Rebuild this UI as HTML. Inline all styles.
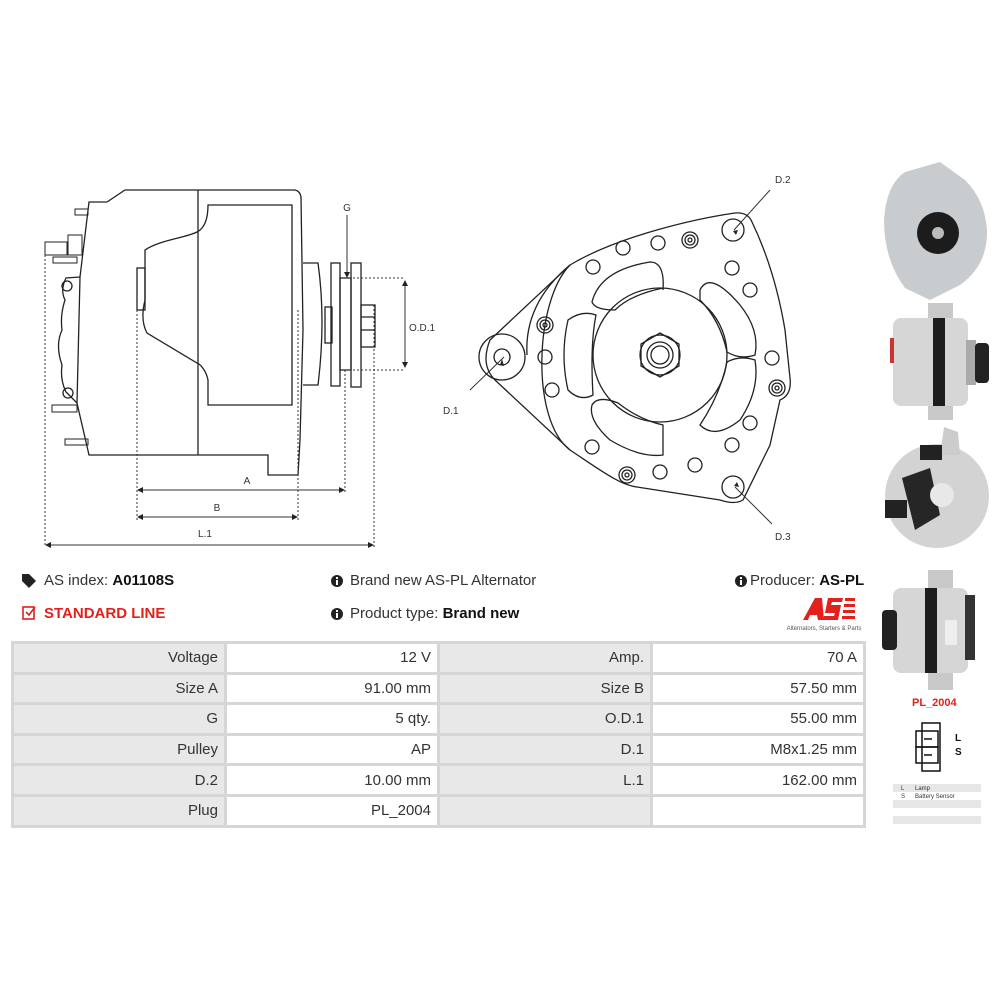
<!DOCTYPE html>
<html><head><meta charset="utf-8"><style>
body{margin:0;width:1000px;height:1000px;background:#fff;font-family:"Liberation Sans",Arial,sans-serif;position:relative;overflow:hidden;color:#333}
.t{position:absolute;font-size:15px;white-space:nowrap}
b{color:#111}
table{position:absolute;left:11px;top:641px;border-collapse:separate;border-spacing:3px;background:#d6d6d6}
td{height:27.6px;font-size:15px;text-align:right;padding:0 6px 0 0;color:#333}
td.l{background:#e8e8e8;width:204px}
td.v{background:#fff;width:204px}
</style></head><body>
<svg width="1000" height="1000" style="position:absolute;left:0;top:0" fill="none" stroke="#222" stroke-width="1.3">
<!-- side view -->
<path d="M89,202 L107,202 L125,190 L295,190 Q300,191 301,197 L303,330 L300,440 L298,475 L268,475 L268,455 L89,455 L77,403 L80,277 Z"/>
<path d="M198,190 L198,455"/>
<path d="M145,250 C160,240 185,238 197,232 C205,228 208,218 208,205 L292,205 L292,405 L208,405 L208,380 C206,370 200,364 197,363 L147,333 Q140,320 145,300 Z"/>
<rect x="137" y="268" width="8" height="42"/>
<path d="M303,263 L318,263 Q326,320 318,385 L303,385"/>
<rect x="325" y="307" width="7" height="36"/>
<rect x="331" y="263" width="9" height="123"/>
<rect x="340" y="278" width="11" height="92"/>
<rect x="351" y="263" width="10" height="124"/>
<rect x="361" y="305" width="14" height="42"/>
<path d="M361,317 L375,317 M361,330 L375,330"/>
<path d="M80,277 L66,278 Q60,290 65,300 Q60,315 62,330 Q55,345 62,365 Q60,380 66,392 L77,403"/>
<circle cx="67" cy="286" r="5"/><circle cx="68" cy="393" r="5"/>
<g stroke-width="1"><rect x="75" y="209" width="13" height="6"/><rect x="45" y="242" width="22" height="13"/><rect x="68" y="235" width="14" height="20"/><rect x="53" y="257" width="24" height="6"/><rect x="52" y="405" width="25" height="7"/><rect x="65" y="439" width="23" height="6"/></g>
<g stroke="#333" stroke-width="1" stroke-dasharray="2,2">
<path d="M45,255 V547 M374,305 V547 M137,310 V520 M298,310 V520 M345,370 V493 M345,278 H405 M345,370 H405"/></g>
<g stroke="#333" stroke-width="1">
<path d="M48,545 H372 M140,490 H343 M140,517 H296 M347,215 V276 M405,282 V366 M504,357 L470,390 M734,230 L770,190 M735,487 L772,524"/></g>
<g fill="#222" stroke="none">
<path d="M45,545 l6,-3 v6z M374,545 l-6,-3 v6z M137,490 l6,-3 v6z M345,490 l-6,-3 v6z M137,517 l6,-3 v6z M298,517 l-6,-3 v6z M347,278 l-3,-6 h6z M405,280 l-3,6 h6z M405,368 l-3,-6 h6z M502,359 l-2,6 4,1z M733,231 l5,-1 -2,5z M734,486 l5,1 -2,-5z"/></g>
<!-- front view -->
<path d="M570,265 C620,235 700,218 735,213 Q748,212 752,222 Q775,270 785,330 L790,378 Q792,395 780,400 L770,445 L743,500 Q735,505 720,500 L637,487 C620,485 600,470 570,450 L495,380 Q480,365 490,340 Z"/>
<path d="M570,265 C535,300 530,420 570,450"/>
<path d="M527,355 C525,320 540,290 570,265"/>
<circle cx="502" cy="357" r="23"/><circle cx="502" cy="357" r="8"/>
<circle cx="660" cy="355" r="67"/>
<path d="M660,333 L679,344 L679,366 L660,377 L641,366 L641,344 Z"/>
<circle cx="660" cy="355" r="20"/><circle cx="660" cy="355" r="13"/><circle cx="660" cy="355" r="9"/>
<g>
<path d="M592,302 Q600,270 650,262 Q665,262 663,290 L663,288 Q630,295 615,310 Q595,310 592,302Z"/>
<path d="M700,290 Q710,270 740,305 Q760,330 755,355 Q740,360 727,352 Q720,320 700,300Z"/>
<path d="M727,362 Q740,355 755,360 Q760,390 740,420 Q715,440 700,425 Q720,395 727,362Z"/>
<path d="M663,425 L663,455 Q640,458 610,440 Q588,420 592,405 Q598,395 618,403 Q640,420 663,425Z"/>
<path d="M596,315 Q590,345 593,395 Q580,402 568,390 Q560,355 568,320 Q582,310 596,315Z"/>
</g>
<g>
<circle cx="623" cy="248" r="7"/><circle cx="658" cy="243" r="7"/><circle cx="593" cy="267" r="7"/><circle cx="732" cy="268" r="7"/><circle cx="750" cy="290" r="7"/><circle cx="545" cy="357" r="7"/><circle cx="552" cy="390" r="7"/><circle cx="772" cy="358" r="7"/><circle cx="750" cy="423" r="7"/><circle cx="732" cy="445" r="7"/><circle cx="592" cy="447" r="7"/><circle cx="660" cy="472" r="7"/><circle cx="695" cy="465" r="7"/>
<circle cx="733" cy="230" r="11"/><circle cx="733" cy="487" r="11"/>
<circle cx="690" cy="240" r="8"/><circle cx="690" cy="240" r="5"/><circle cx="690" cy="240" r="2"/>
<circle cx="545" cy="325" r="8"/><circle cx="545" cy="325" r="5"/><circle cx="545" cy="325" r="2"/>
<circle cx="777" cy="388" r="8"/><circle cx="777" cy="388" r="5"/><circle cx="777" cy="388" r="2"/>
<circle cx="627" cy="475" r="8"/><circle cx="627" cy="475" r="5"/><circle cx="627" cy="475" r="2"/>
</g>
<g fill="#333" stroke="none" font-size="10" font-family="Liberation Sans,sans-serif">
<text x="247" y="484" text-anchor="middle">A</text><text x="217" y="511" text-anchor="middle">B</text><text x="205" y="537" text-anchor="middle">L.1</text>
<text x="347" y="211" text-anchor="middle">G</text><text x="409" y="331">O.D.1</text>
<text x="443" y="414">D.1</text><text x="775" y="183">D.2</text><text x="775" y="540">D.3</text>
</g>
<!-- photos -->
<g stroke="none">
<path d="M905,172 L940,162 L965,180 Q985,200 987,230 Q988,265 960,285 L930,300 L905,288 Q884,260 884,220 Q886,185 905,172 Z" fill="#c9ccce"/>
<circle cx="938" cy="233" r="21" fill="#1c1c1c"/><circle cx="938" cy="233" r="6" fill="#bbb"/>
<rect x="928" y="303" width="25" height="117" fill="#c8c8c8"/>
<rect x="893" y="318" width="75" height="88" rx="8" fill="#d6d6d6"/>
<rect x="933" y="318" width="12" height="88" fill="#1d1d1d"/>
<rect x="966" y="340" width="10" height="45" fill="#aaa"/>
<rect x="975" y="343" width="14" height="40" rx="4" fill="#222"/>
<rect x="890" y="338" width="4" height="25" fill="#c33"/>
<circle cx="937" cy="496" r="52" fill="#d3d3d3"/>
<path d="M944,427 L958,432 L960,455 L940,455Z" fill="#ccc"/>
<rect x="920" y="445" width="22" height="15" fill="#222"/>
<path d="M902,478 L930,468 L940,515 L915,530 Z" fill="#262626"/>
<rect x="885" y="500" width="22" height="18" fill="#222"/>
<circle cx="942" cy="495" r="12" fill="#e8e8e8"/>
<rect x="928" y="570" width="25" height="120" fill="#c8c8c8"/>
<rect x="893" y="588" width="75" height="85" rx="8" fill="#d6d6d6"/>
<rect x="925" y="588" width="12" height="85" fill="#1d1d1d"/>
<rect x="882" y="610" width="15" height="40" rx="4" fill="#222"/>
<rect x="965" y="595" width="10" height="65" fill="#333"/>
<rect x="945" y="620" width="12" height="25" fill="#eee"/>
</g>
<!-- plug icon -->
<g stroke="#111" stroke-width="1.5"><rect x="922" y="723" width="18" height="48"/><rect x="916" y="731" width="22" height="16"/><rect x="916" y="747" width="22" height="16"/><path d="M924,739 h8 M924,755 h8"/></g>
<!-- AS logo -->
<g fill="#e3201b" stroke="none"><path d="M803,620 L815,598 L822,598 L824,620 L818,620 L817,615 L810,615 L808,620Z"/><path d="M828,598 h15 l-1,4 h-10 l-1,3 h10 l-3,15 h-15 l1,-4 h10 l1,-3 h-10z"/><rect x="845" y="598" width="10" height="3"/><rect x="844" y="604" width="11" height="3"/><rect x="843" y="610" width="12" height="3"/><rect x="842" y="616" width="13" height="3"/></g>
<text x="824" y="630" font-size="6" fill="#555" stroke="none" text-anchor="middle" font-family="Liberation Sans,sans-serif">Alternators, Starters &amp; Parts</text>
<!-- legend -->
<g stroke="none"><rect x="893" y="784" width="88" height="8" fill="#e6e6e6"/><rect x="893" y="792" width="88" height="8" fill="#fff"/><rect x="893" y="800" width="88" height="8" fill="#e6e6e6"/><rect x="893" y="816" width="88" height="8" fill="#e6e6e6"/></g>
<g fill="#333" stroke="none" font-size="6" font-family="Liberation Sans,sans-serif"><text x="901" y="790">L</text><text x="915" y="790">Lamp</text><text x="901" y="798">S</text><text x="915" y="798">Battery Sensor</text></g>
<g fill="#111" stroke="none" font-size="10" font-weight="bold" font-family="Liberation Sans,sans-serif"><text x="955" y="741">L</text><text x="955" y="755">S</text></g>
<!-- info icons -->
<g stroke="none" fill="#222"><circle cx="337" cy="581" r="6"/><circle cx="337" cy="614" r="6"/><circle cx="741" cy="581" r="6"/>
<path d="M22,574 h7 l7,7 -7,7 -7,-7z"/></g>
<g fill="#fff" stroke="none"><rect x="336" y="580" width="2" height="5"/><rect x="336" y="577" width="2" height="2"/><rect x="336" y="613" width="2" height="5"/><rect x="336" y="610" width="2" height="2"/><rect x="740" y="580" width="2" height="5"/><rect x="740" y="577" width="2" height="2"/></g>
<g stroke="#e3201b" stroke-width="1.6"><rect x="23" y="607" width="11" height="12"/><path d="M26,612 l3,3 6,-8"/></g>
</svg>
<div class="t" style="left:44px;top:572px">AS index: <b>A01108S</b></div>
<div class="t" style="left:44px;top:605px;color:#e3201b;font-weight:bold">STANDARD LINE</div>
<div class="t" style="left:350px;top:572px">Brand new AS-PL Alternator</div>
<div class="t" style="left:350px;top:605px">Product type: <b>Brand new</b></div>
<div class="t" style="left:750px;top:572px">Producer: <b>AS-PL</b></div>
<div class="t" style="left:912px;top:697px;font-size:11px;color:#e3201b;font-weight:bold">PL_2004</div>
<table>
<tr><td class="l">Voltage</td><td class="v">12 V</td><td class="l">Amp.</td><td class="v">70 A</td></tr>
<tr><td class="l">Size A</td><td class="v">91.00 mm</td><td class="l">Size B</td><td class="v">57.50 mm</td></tr>
<tr><td class="l">G</td><td class="v">5 qty.</td><td class="l">O.D.1</td><td class="v">55.00 mm</td></tr>
<tr><td class="l">Pulley</td><td class="v">AP</td><td class="l">D.1</td><td class="v">M8x1.25 mm</td></tr>
<tr><td class="l">D.2</td><td class="v">10.00 mm</td><td class="l">L.1</td><td class="v">162.00 mm</td></tr>
<tr><td class="l">Plug</td><td class="v">PL_2004</td><td class="l"></td><td class="v"></td></tr>
</table>
</body></html>
